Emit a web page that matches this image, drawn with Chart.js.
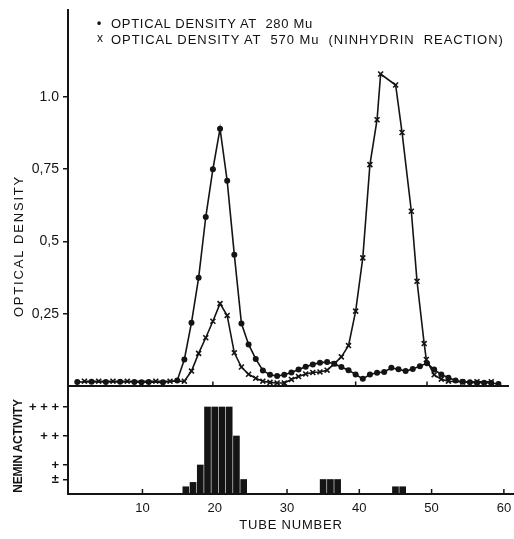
<!DOCTYPE html>
<html>
<head>
<meta charset="utf-8">
<script src="https://cdn.jsdelivr.net/npm/chart.js@4"></script>
<style>
  body { margin: 0; background: #fff; }
  #wrap { position: relative; width: 514px; height: 539px; font-family: "Liberation Sans", Arial, sans-serif; color: #111; }
  canvas { position: absolute; left: 0; }
  #topChart { top: 0; }
  #botChart { top: 380px; }
  .txt { position: absolute; white-space: pre; font-size: 13px; line-height: 13px; letter-spacing: 1px; }
  .mark { position: absolute; font-size: 12px; line-height: 12px; font-weight: bold; }
  .vt { transform: translate(-50%, -50%) rotate(-90deg); }
</style>
</head>
<body>
<div id="wrap">
  <canvas id="topChart" width="514" height="392"></canvas>
  <canvas id="botChart" width="514" height="159"></canvas>

  <div class="mark" style="left:97px;top:17px;">•</div>
  <div class="txt" style="left:111px;top:17px;letter-spacing:0.7px;">OPTICAL DENSITY AT  280 Mu</div>
  <div class="mark" style="left:97px;top:32px;font-weight:normal;">x</div>
  <div class="txt" style="left:111px;top:33px;letter-spacing:0.95px;">OPTICAL DENSITY AT  570 Mu  (NINHYDRIN  REACTION)</div>

  <div class="txt vt" style="left:18px;top:246px;letter-spacing:1.8px;">OPTICAL DENSITY</div>
  <div class="txt vt" style="left:18px;top:446px;font-size:12px;font-weight:bold;letter-spacing:-0.2px;">NEMIN ACTIVITY</div>
  <div class="txt" style="left:291px;top:524px;transform:translate(-50%,-50%);letter-spacing:0.8px;">TUBE NUMBER</div>
</div>

<script>
// optical density at 280 mu (dots)
const tubes280 = [1, 3, 5, 7, 9, 10, 11, 13, 15,
  16, 17, 18, 19, 20, 21, 22, 23, 24, 25, 26, 27, 28, 29, 30, 31, 32, 33, 34, 35,
  36, 37, 38, 39, 40, 41, 42, 43, 44, 45, 46, 47, 48, 49, 50, 51, 52, 53, 54, 55,
  56, 57, 58, 59, 60];
const od280 = [0.015, 0.016, 0.015, 0.016, 0.015, 0.014, 0.015, 0.014, 0.02,
  0.093, 0.22, 0.375, 0.585, 0.75, 0.89, 0.71, 0.455, 0.217, 0.145, 0.095, 0.055, 0.04, 0.036, 0.04, 0.048, 0.058, 0.068, 0.076, 0.082,
  0.084, 0.078, 0.067, 0.056, 0.041, 0.026, 0.041, 0.047, 0.05, 0.064, 0.059, 0.053, 0.06, 0.07, 0.08, 0.058, 0.041, 0.03, 0.02, 0.016,
  0.014, 0.013, 0.013, 0.012, 0.008];

// optical density at 570 mu, ninhydrin (crosses)
const tubes570 = [2, 4, 6, 8, 12, 14,
  16, 17, 18, 19, 20, 21, 22, 23, 24, 25, 26, 27, 28, 29, 30, 31, 32, 33, 34, 35,
  36, 37, 38, 39, 40, 41, 42, 43, 43.5, 45.6, 46.5, 47.8, 48.6, 49.6, 49.9,
  51, 52, 53, 55, 57, 59];
const od570 = [0.018, 0.018, 0.018, 0.018, 0.018, 0.018,
  0.018, 0.053, 0.114, 0.168, 0.225, 0.286, 0.245, 0.116, 0.067, 0.042, 0.028, 0.018, 0.014, 0.012, 0.012, 0.024, 0.034, 0.043, 0.048, 0.05,
  0.056, 0.078, 0.102, 0.141, 0.26, 0.444, 0.766, 0.921, 1.079, 1.041, 0.877, 0.605, 0.363, 0.148, 0.093,
  0.04, 0.025, 0.018, 0.015, 0.016, 0.016];

// nemin activity: 0.5 = ±, 1 = +, 2 = ++, 3 = +++
const neminTubes = [16, 17, 18, 19, 20, 21, 22, 23, 24, 35, 36, 37, 45, 46];
const neminLevel = [0.25, 0.4, 1, 3, 3, 3, 3, 2, 0.5, 0.5, 0.5, 0.5, 0.25, 0.25];

const tubeTicks = [10, 20, 30, 40, 50, 60];
const odTicks = [0.25, 0.5, 0.75, 1.0];
const odTickLabels = ['0,25', '0,5', '0,75', '1.0'];
const neminTicks = [0.5, 1, 2, 3];
const neminTickLabels = ['±', '+', '+ +', '+ + +'];

const INK = '#141414';
const X_MIN = -0.3, X_MAX = 61.4;

const pts = (xs, ys) => xs.map((x, i) => ({ x, y: ys[i] }));
const fixTicks = vals => scale => { scale.ticks = vals.map(v => ({ value: v })); };
// fixed axis sizes, and no extra room for half tick labels
const fitSize = (key, size) => s => {
  s[key] = size;
  s.paddingTop = s.paddingBottom = s.paddingLeft = s.paddingRight = 0;
};

// small ticks pointing up into the plot from the bottom axis
const innerTicks = {
  id: 'innerTicks',
  afterDraw(chart) {
    const { ctx, chartArea, scales: { x } } = chart;
    ctx.save();
    ctx.strokeStyle = INK;
    ctx.lineWidth = 1.5;
    tubeTicks.forEach(v => {
      const px = x.getPixelForValue(v);
      ctx.beginPath();
      ctx.moveTo(px, chartArea.bottom);
      ctx.lineTo(px, chartArea.bottom - 5);
      ctx.stroke();
    });
    ctx.restore();
  }
};

const yAxisBase = {
  position: 'left',
  min: 0,
  afterFit: fitSize('width', 68),
  grid: { drawOnChartArea: false, color: INK, lineWidth: 1.5, tickLength: 5 },
  border: { color: INK, width: 2 },
  ticks: { color: INK, padding: 4, font: { family: 'Liberation Sans', size: 14 } }
};

new Chart(document.getElementById('topChart'), {
  type: 'line',
  data: {
    datasets: [{
      label: 'OPTICAL DENSITY AT 280 Mu',
      data: pts(tubes280, od280),
      borderColor: INK, borderWidth: 1.6,
      pointStyle: 'circle', pointRadius: 3, pointBackgroundColor: INK, pointBorderColor: INK, pointBorderWidth: 0,
      tension: 0
    }, {
      label: 'OPTICAL DENSITY AT 570 Mu (NINHYDRIN REACTION)',
      data: pts(tubes570, od570),
      borderColor: INK, borderWidth: 1.6,
      pointStyle: 'crossRot', pointRadius: 3.5, pointBorderColor: INK, pointBorderWidth: 1.6,
      tension: 0
    }]
  },
  options: {
    responsive: false, animation: false,
    layout: { padding: { top: 10, left: 0, right: 0, bottom: 0 } },
    plugins: { legend: { display: false }, tooltip: { enabled: false } },
    scales: {
      x: {
        type: 'linear', min: X_MIN, max: X_MAX,
        afterBuildTicks: fixTicks(tubeTicks),
        afterFit: fitSize('height', 5),
        ticks: { display: false },
        grid: { display: false, drawTicks: false },
        border: { color: INK, width: 2 }
      },
      y: Object.assign({}, yAxisBase, {
        max: 1.3,
        afterBuildTicks: fixTicks(odTicks),
        ticks: Object.assign({}, yAxisBase.ticks, { callback: (v, i) => odTickLabels[i] })
      })
    }
  },
  plugins: [innerTicks]
});

new Chart(document.getElementById('botChart'), {
  type: 'bar',
  data: {
    datasets: [{
      label: 'NEMIN ACTIVITY',
      data: pts(neminTubes, neminLevel),
      backgroundColor: INK,
      barThickness: 6,
      borderWidth: 0
    }]
  },
  options: {
    responsive: false, animation: false,
    layout: { padding: { top: 8, left: 0, right: 0, bottom: 0 } },
    plugins: { legend: { display: false }, tooltip: { enabled: false } },
    scales: {
      x: {
        type: 'linear', min: X_MIN, max: X_MAX, offset: false,
        afterBuildTicks: fixTicks(tubeTicks),
        afterFit: fitSize('height', 45),
        ticks: { color: INK, padding: 7, maxRotation: 0, font: { family: 'Liberation Sans', size: 13 } },
        grid: { display: false, drawTicks: false, offset: false },
        border: { color: INK, width: 2 }
      },
      y: Object.assign({}, yAxisBase, {
        max: 3.655,
        afterBuildTicks: fixTicks(neminTicks),
        ticks: Object.assign({}, yAxisBase.ticks, {
          callback: (v, i) => neminTickLabels[i],
          font: { family: 'Liberation Sans', size: 13, weight: 'bold' }
        })
      })
    }
  },
  plugins: [innerTicks]
});
</script>
</body>
</html>
